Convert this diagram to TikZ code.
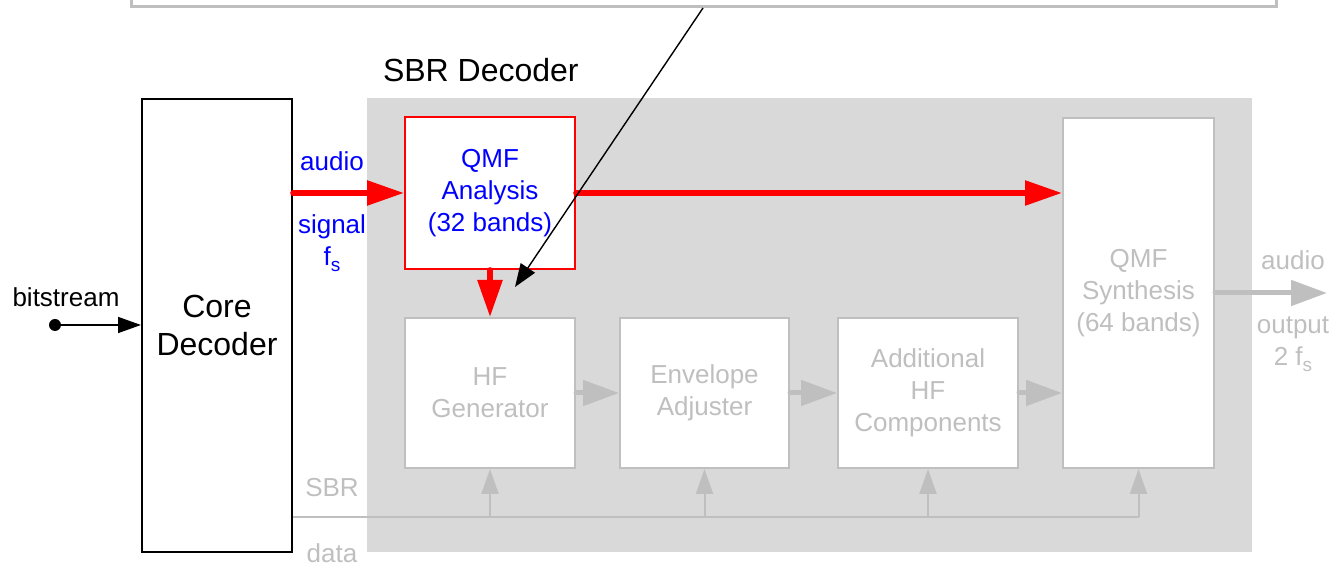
\documentclass[tikz,border=0pt]{standalone}
\usepackage{fontspec}
\setmainfont{Liberation Sans}
\usetikzlibrary{positioning, arrows.meta, calc}

\definecolor{panelgray}{HTML}{D9D9D9}
\definecolor{fadegray}{HTML}{BFBFBF}

% small lowered index, as in f_s
\newcommand{\lowidx}[1]{\raisebox{-0.45ex}{\fontsize{9.5}{9.5}\selectfont #1}}

\begin{document}
\begin{tikzpicture}[
    x=0.5pt, y=-0.5pt,
    node distance=21.5pt,
    every node/.style={font=\fontsize{13}{16}\selectfont},
    block/.style={
      rectangle, draw=fadegray, line width=1pt, fill=white,
      text=fadegray, align=center, inner sep=2pt,
      minimum width=85pt, minimum height=75pt,
    },
    redblock/.style={block, draw=red, text=blue},
    title/.style={font=\fontsize{16}{19}\selectfont, inner sep=0pt},
    flow/.style={-{Triangle[length=18.5pt, width=12pt]}, red, line width=2.8pt, line cap=round},
    fadeflow/.style={-{Triangle[length=18pt, width=12.5pt]}, fadegray, line width=2.5pt, line cap=round},
    databus/.style={fadegray, line width=1pt},
    datatap/.style={databus, -{Triangle[length=12.5pt, width=8.5pt]}},
    sig/.style={text=blue, align=center, inner sep=0pt},
    fadetext/.style={text=fadegray, align=center, inner sep=0pt},
  ]
  \useasboundingbox (0,0) rectangle (1335,566);

  % note box above, mostly off the page
  \node[draw=fadegray, line width=1.5pt, fill=white, inner sep=0pt,
        minimum width=572.5pt, minimum height=50pt, anchor=south west] (note) at (130,8) {};

  % SBR part
  \node[fill=panelgray, inner sep=0pt, minimum width=442.5pt, minimum height=227pt] (sbr) at (809.5,325) {};
  \node[title, anchor=base west] (sbrtitle) at ($(sbr.north west)+(16,-16)$) {SBR Decoder};

  % core decoder and its input
  \node[draw, line width=1pt, fill=white, align=center, minimum width=75pt, minimum height=226.5pt,
        font=\fontsize{16}{19}\selectfont] (core) at (217,325.5) {Core\\Decoder};
  \node[circle, fill, inner sep=0pt, minimum size=6pt] (src) at (55,325) {};
  \node[inner sep=0pt, anchor=base] (bitlbl) at (66,307) {bitstream};
  \draw[-{Triangle[length=11.5pt, width=8pt]}, line width=0.8pt] (src) -- (core.west |- src);

  % blocks
  \node[redblock, minimum height=76pt] (qmfa) at (490,193) {QMF\\Analysis\\(32 bands)};
  \node[block, below=23.5pt of qmfa] (hfgen) {HF\\Generator};
  \node[block, right=of hfgen, minimum width=84.5pt] (env) {Envelope\\Adjuster};
  \node[block, right=23.5pt of env, minimum width=90pt] (addhf) {Additional\\HF\\Components};
  \node[block, minimum width=75.5pt, minimum height=175pt] (synth) at (1138.5,293) {QMF\\Synthesis\\(64 bands)};

  % signal path
  \draw[flow] (core.east |- qmfa.west) -- (qmfa.west);
  \draw[flow] (qmfa.east) -- (qmfa.east -| synth.west);
  \draw[flow] (qmfa.south) -- (hfgen.north);
  \foreach \a/\b in {hfgen/env, env/addhf}
    \draw[fadeflow] (\a.east) -- (\b.west);
  \draw[fadeflow] (addhf.east) -- (addhf.east -| synth.west);
  \coordinate (out) at (1327,293);
  \draw[fadeflow] (synth.east |- out) -- (out);

  % SBR data
  \coordinate (bus) at (292,517);
  \draw[databus] (core.east |- bus) -- (synth.south |- bus);
  \foreach \n in {hfgen, env, addhf, synth}
    \draw[datatap] (\n.south |- bus) -- (\n.south);

  % labels
  \node[sig] (audioin) at (332,161) {audio};
  \node[sig] (sigin) at (332,243) {signal\\f\lowidx{s}};
  \node[fadetext] (sbrlbl) at (332,488) {SBR};
  \node[fadetext] (datalbl) at (332,553) {data};
  \node[fadetext] (outaudio) at (1293,260) {audio};
  \node[fadetext] (outlbl) at (1293,344) {output\\2 f\lowidx{s}};

  % pointer from the note
  \coordinate (ptr) at (703,8);
  \coordinate (tgt) at (515,287);
  \draw[-{Triangle[length=11.5pt, width=8.5pt]}, line width=0.7pt] (ptr) -- (tgt);
\end{tikzpicture}
\end{document}
